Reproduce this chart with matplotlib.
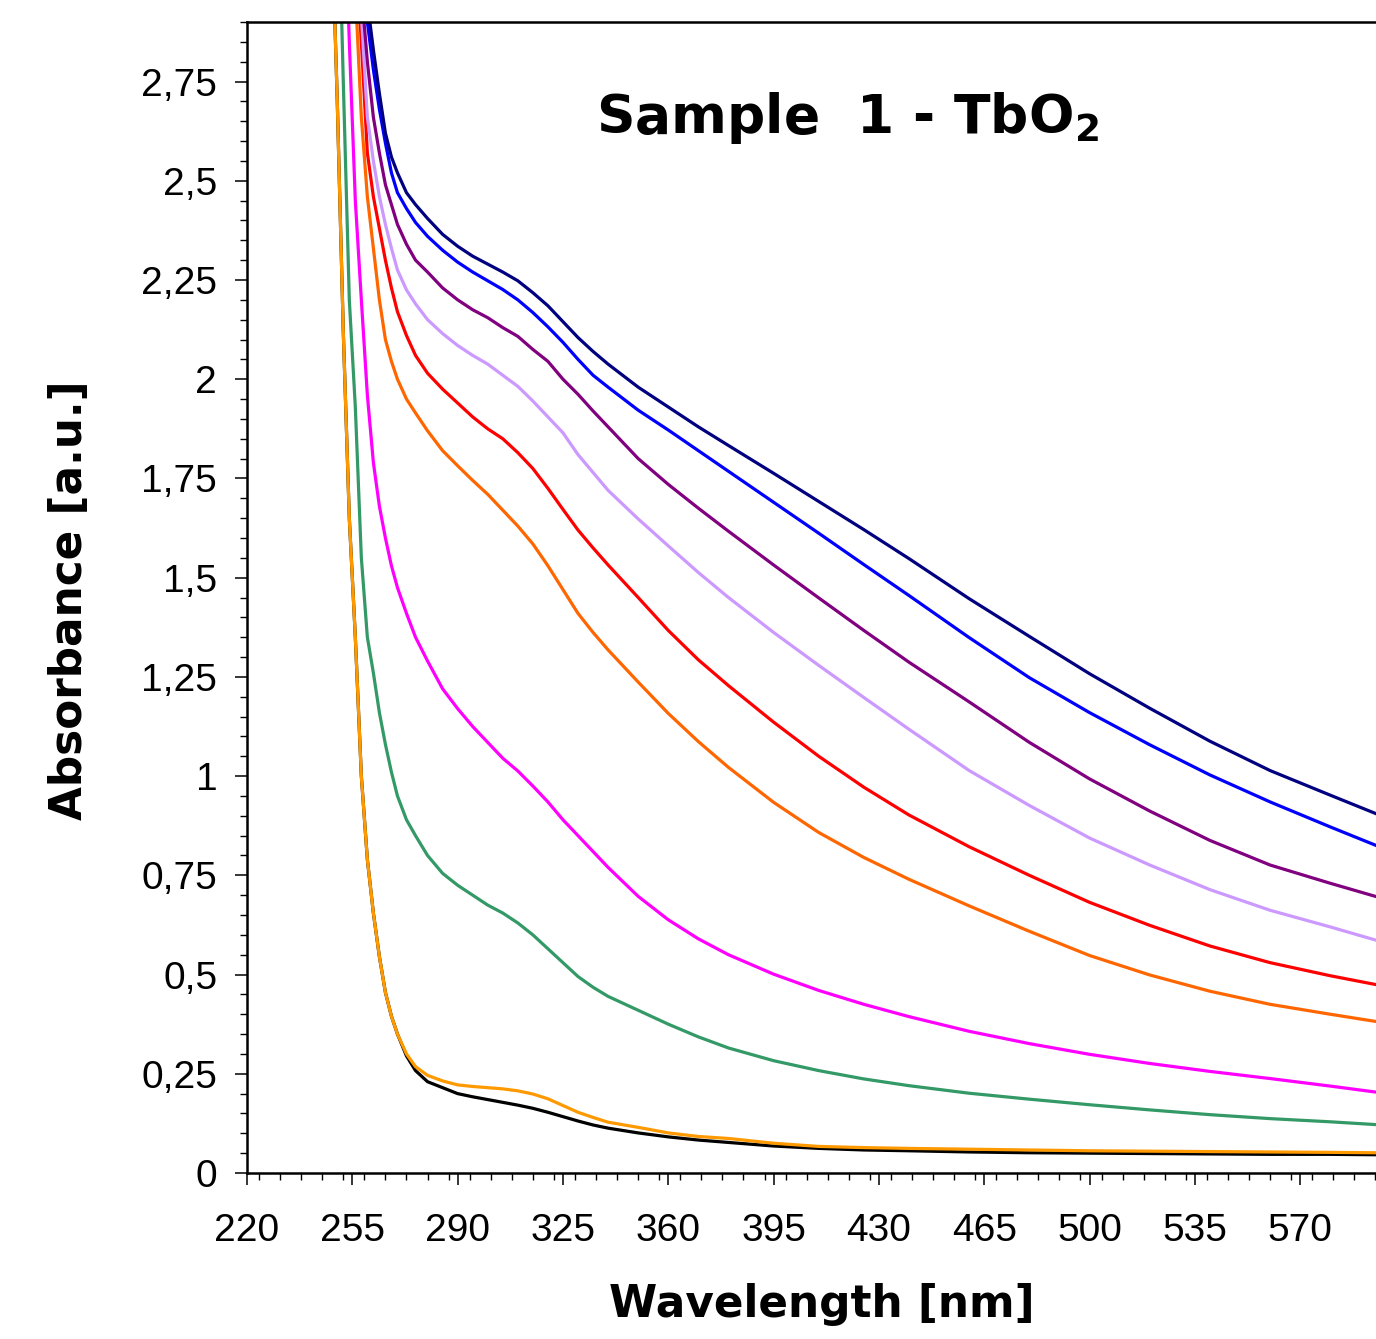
import numpy as np
import matplotlib
matplotlib.use("Agg")
import matplotlib.pyplot as plt
from matplotlib.ticker import MultipleLocator, FixedLocator, FuncFormatter

nan = np.nan
wavelength = [248, 250, 252, 254, 256, 258, 260, 262, 264, 266, 268, 270, 273, 276, 280,
              285, 290, 295, 300, 305, 310, 315, 320, 325, 330, 335, 340, 350, 360, 370,
              380, 395, 410, 425, 440, 460, 480, 500, 520, 540, 560, 580, 595]

black = [3.2, 2.7, 2.12, 1.65, 1.35, 1.0, 0.79, 0.655, 0.545, 0.455, 0.395, 0.35, 0.295, 0.258, 0.23,
         0.215, 0.2, 0.192, 0.185, 0.178, 0.171, 0.163, 0.153, 0.142, 0.131, 0.121, 0.113, 0.101, 0.091, 0.083,
         0.077, 0.068, 0.062, 0.058, 0.056, 0.053, 0.051, 0.05, 0.049, 0.048, 0.047, 0.047, 0.046]
gold = [3.2, 2.7, 2.12, 1.65, 1.35, 1.0, 0.79, 0.655, 0.545, 0.455, 0.395, 0.35, 0.30, 0.268, 0.246,
        0.232, 0.222, 0.218, 0.215, 0.212, 0.207, 0.199, 0.187, 0.17, 0.153, 0.14, 0.128, 0.115, 0.101, 0.092,
        0.087, 0.075, 0.067, 0.064, 0.062, 0.06, 0.058, 0.056, 0.055, 0.054, 0.053, 0.052, 0.051]
green = [nan, 3.33, 2.75, 2.2, 1.93, 1.55, 1.35, 1.26, 1.16, 1.08, 1.01, 0.95, 0.89, 0.85, 0.80,
         0.755, 0.725, 0.70, 0.675, 0.655, 0.63, 0.60, 0.565, 0.53, 0.495, 0.468, 0.445, 0.41, 0.375, 0.343,
         0.315, 0.283, 0.258, 0.237, 0.220, 0.201, 0.186, 0.172, 0.159, 0.147, 0.137, 0.129, 0.122]
magenta = [nan, nan, 3.3, 2.85, 2.45, 2.2, 1.96, 1.79, 1.68, 1.6, 1.53, 1.475, 1.41, 1.35, 1.29,
           1.22, 1.17, 1.125, 1.085, 1.045, 1.013, 0.975, 0.935, 0.89, 0.85, 0.81, 0.77, 0.697, 0.638, 0.59,
           0.55, 0.501, 0.46, 0.425, 0.394, 0.357, 0.326, 0.299, 0.276, 0.256, 0.238, 0.219, 0.204]
dark_orange = [nan, nan, nan, 3.4, 2.98, 2.66, 2.46, 2.33, 2.2, 2.1, 2.045, 2.0, 1.95, 1.915, 1.87,
               1.82, 1.782, 1.745, 1.71, 1.67, 1.63, 1.585, 1.53, 1.47, 1.41, 1.362, 1.318, 1.237, 1.158, 1.087,
               1.022, 0.934, 0.858, 0.795, 0.74, 0.673, 0.609, 0.548, 0.499, 0.458, 0.425, 0.4, 0.382]
red = [nan, nan, nan, nan, 3.1, 2.85, 2.57, 2.46, 2.38, 2.3, 2.23, 2.17, 2.11, 2.06, 2.015,
       1.975, 1.94, 1.905, 1.875, 1.85, 1.815, 1.775, 1.725, 1.672, 1.62, 1.575, 1.532, 1.45, 1.367, 1.293,
       1.228, 1.136, 1.05, 0.972, 0.902, 0.822, 0.75, 0.682, 0.624, 0.572, 0.53, 0.497, 0.475]
lavender = [nan, nan, nan, nan, 3.3, 2.92, 2.66, 2.55, 2.46, 2.39, 2.33, 2.275, 2.225, 2.19, 2.15,
            2.115, 2.085, 2.06, 2.038, 2.01, 1.982, 1.945, 1.905, 1.865, 1.81, 1.765, 1.72, 1.648, 1.58, 1.513,
            1.45, 1.362, 1.279, 1.198, 1.118, 1.014, 0.926, 0.844, 0.776, 0.714, 0.662, 0.62, 0.587]
purple = [nan, nan, nan, nan, 3.4, 2.98, 2.8, 2.66, 2.57, 2.49, 2.44, 2.39, 2.34, 2.3, 2.27,
          2.23, 2.2, 2.175, 2.155, 2.13, 2.108, 2.075, 2.045, 2.0, 1.962, 1.92, 1.88, 1.8, 1.735, 1.675,
          1.617, 1.532, 1.449, 1.367, 1.287, 1.187, 1.085, 0.993, 0.912, 0.838, 0.776, 0.73, 0.697]
blue = [nan, nan, nan, nan, nan, 3.1, 2.9, 2.78, 2.68, 2.595, 2.52, 2.47, 2.43, 2.395, 2.36,
        2.325, 2.295, 2.27, 2.248, 2.226, 2.2, 2.168, 2.132, 2.093, 2.05, 2.01, 1.98, 1.922, 1.872, 1.82,
        1.768, 1.69, 1.612, 1.533, 1.455, 1.349, 1.248, 1.16, 1.079, 1.003, 0.935, 0.872, 0.826]
navy = [nan, nan, nan, nan, nan, 3.2, 2.95, 2.83, 2.72, 2.62, 2.56, 2.52, 2.47, 2.44, 2.405,
        2.365, 2.335, 2.31, 2.29, 2.27, 2.248, 2.218, 2.185, 2.145, 2.105, 2.07, 2.038, 1.98, 1.93, 1.88,
        1.833, 1.763, 1.692, 1.621, 1.548, 1.447, 1.352, 1.258, 1.171, 1.088, 1.014, 0.952, 0.906]

series = [
    (black, "#000000"),
    (gold, "#FF9900"),
    (green, "#339966"),
    (magenta, "#FF00FF"),
    (dark_orange, "#FF6600"),
    (red, "#FF0000"),
    (lavender, "#CC99FF"),
    (purple, "#800080"),
    (blue, "#0000FF"),
    (navy, "#000080"),
]

x_major = [220, 255, 290, 325, 360, 395, 430, 465, 500, 535, 570]

W, H = 1376, 1339
fig = plt.figure(figsize=(W / 100, H / 100), dpi=100)
x0, x1 = 220, 600
left = 247 / W
bottom = (H - 1173) / H
top = (H - 22) / H
width = (x1 - x0) * 3.009 / W
ax = fig.add_axes([left, bottom, width, top - bottom])

for vals, col in series:
    ax.plot(wavelength, vals, color=col, lw=2.3, solid_joinstyle="round")

ax.set_xlim(x0, x1)
ax.set_ylim(0, 2.9)

ax.xaxis.set_major_locator(FixedLocator(x_major))
ax.xaxis.set_minor_locator(MultipleLocator(7))
ax.yaxis.set_major_locator(MultipleLocator(0.25))
ax.yaxis.set_minor_locator(MultipleLocator(0.05))


def yfmt(v, pos):
    s = ("%.2f" % v).rstrip("0").rstrip(".")
    return s.replace(".", ",")


ax.yaxis.set_major_formatter(FuncFormatter(yfmt))

for s in ["left", "bottom", "top"]:
    ax.spines[s].set_linewidth(1.8)
ax.spines["right"].set_visible(False)

ax.tick_params(axis="both", which="major", direction="out", length=8.5, width=1.1,
               labelsize=28, colors="black")
ax.tick_params(axis="both", which="minor", direction="out", length=5, width=1.0)
ax.tick_params(axis="x", which="major", pad=20)
ax.tick_params(axis="y", which="major", pad=13)
for lab in ax.get_xticklabels() + ax.get_yticklabels():
    lab.set_fontfamily("Liberation Sans")

fig.text(822 / W, 1 - 1305 / H, "Wavelength [nm]", ha="center", va="center",
         fontsize=31.5, fontweight="bold", family="DejaVu Sans")
fig.text(70 / W, 1 - 600 / H, "Absorbance [a.u.]", ha="center", va="center",
         rotation=90, fontsize=31.5, fontweight="bold", family="DejaVu Sans")
fig.text(847 / W, 1 - 118 / H, r"Sample  1 - TbO$_\mathbf{2}$", ha="center", va="center",
         fontsize=38.5, fontweight="bold", family="DejaVu Sans")

fig.savefig("out.png", dpi=100)
